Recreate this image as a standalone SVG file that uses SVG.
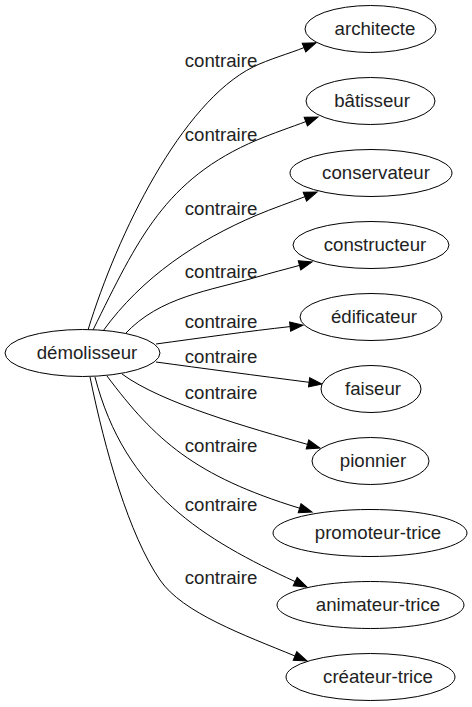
<svg xmlns="http://www.w3.org/2000/svg" width="472" height="707" viewBox="0 0 472 707">
<style>
.edge{fill:none;stroke:#000;stroke-width:1;marker-end:url(#arr)}
.node ellipse{fill:#fff;stroke:#000;stroke-width:1}
text{font-family:"Liberation Sans",Arial,sans-serif;font-size:18.67px;fill:#222;text-anchor:middle}
</style>
<defs>
<marker id="arr" markerUnits="userSpaceOnUse" markerWidth="15" markerHeight="12" refX="0" refY="6" orient="auto" viewBox="0 0 15 12" overflow="visible">
<path d="M0,1.3 L13,6 L0,10.7 Z" fill="#000" stroke="#000" stroke-width="1"/>
</marker>
</defs>
<rect width="472" height="707" fill="#fff"/>
<g id="edges">
<path class="edge" d="M88,330 C117.5,233.5 181.5,102.8 253,67 C268.2,59.4 290,53.3 304,47.6"/>
<path class="edge" d="M93,330 C137.7,239.6 165,179 257,140 C272.6,133.4 291.8,126.9 305.8,121.6"/>
<path class="edge" d="M103,331 C142,277 197.2,240.4 257,215 C271.7,208.8 290.9,202.1 304.9,196.7"/>
<path class="edge" d="M125,334 C160,296.5 209,291 257,277 C271.4,272.8 286,269.1 299.5,265.4"/>
<path class="edge" d="M156,344 C200,338 250,331 290.1,326.6"/>
<path class="edge" d="M156,362 C200,368 260,376 309.1,382.3"/>
<path class="edge" d="M122,374 C162,403.5 249.8,427.9 307.5,444.4"/>
<path class="edge" d="M107,376 C155,440 194.4,475.9 299.6,508.2"/>
<path class="edge" d="M95,377 C125,493 204.3,539.8 295.2,581.6"/>
<path class="edge" d="M90,377 C105,450.5 128.9,534.7 160,580 C182.6,613 244.4,635.1 295,656"/>
<text x="221" y="67">contraire</text>
<text x="221" y="141">contraire</text>
<text x="221" y="215">contraire</text>
<text x="221" y="277.5">contraire</text>
<text x="221" y="328">contraire</text>
<text x="221" y="363">contraire</text>
<text x="221" y="398.5">contraire</text>
<text x="221" y="451.5">contraire</text>
<text x="221" y="511">contraire</text>
<text x="221" y="584">contraire</text>
</g>
<g id="n-demolisseur" class="node"><ellipse cx="82.5" cy="353" rx="77.5" ry="23.5"/><text x="87" y="359">démolisseur</text></g>
<g id="n-architecte" class="node"><ellipse cx="370.5" cy="29" rx="65.5" ry="23.5"/><text x="375" y="35">architecte</text></g>
<g id="n-batisseur" class="node"><ellipse cx="370.5" cy="101" rx="64.5" ry="23.5"/><text x="372" y="107">bâtisseur</text></g>
<g id="n-conservateur" class="node"><ellipse cx="371" cy="173" rx="81" ry="23.5"/><text x="376" y="179">conservateur</text></g>
<g id="n-constructeur" class="node"><ellipse cx="371" cy="245" rx="78" ry="23.5"/><text x="375" y="251">constructeur</text></g>
<g id="n-edificateur" class="node"><ellipse cx="371" cy="317" rx="71" ry="23.5"/><text x="374" y="323">édificateur</text></g>
<g id="n-faiseur" class="node"><ellipse cx="371" cy="389" rx="50" ry="23.5"/><text x="373" y="395">faiseur</text></g>
<g id="n-pionnier" class="node"><ellipse cx="370.5" cy="461" rx="58.5" ry="23.5"/><text x="373" y="467">pionnier</text></g>
<g id="n-promoteur" class="node"><ellipse cx="370" cy="533" rx="97" ry="23.5"/><text x="378" y="539">promoteur-trice</text></g>
<g id="n-animateur" class="node"><ellipse cx="370.5" cy="605" rx="93.5" ry="23.5"/><text x="378" y="611">animateur-trice</text></g>
<g id="n-createur" class="node"><ellipse cx="370.5" cy="677" rx="84.5" ry="23.5"/><text x="378" y="683">créateur-trice</text></g>
</svg>
